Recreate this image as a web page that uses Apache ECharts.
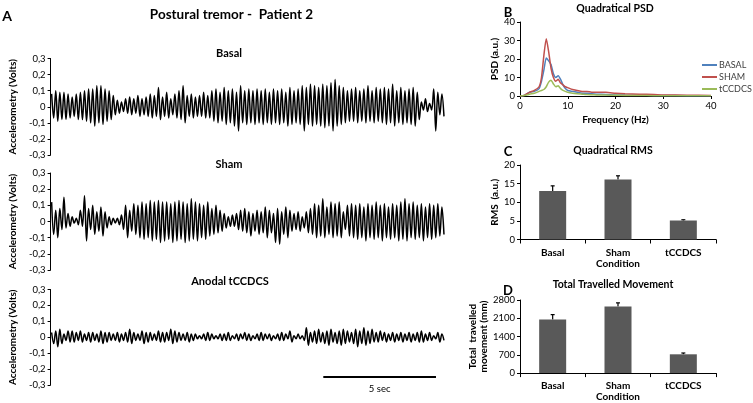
<!DOCTYPE html>
<html><head><meta charset="utf-8">
<script src="https://cdn.jsdelivr.net/npm/echarts@6/dist/echarts.min.js"></script>
<style>html,body{margin:0;padding:0;background:#fff}#c{width:753px;height:403px}</style>
</head><body><div id="c"></div>
<script>
// ---------- Panel A: accelerometry traces (alternating peak / trough per tremor cycle, Volts) ----------
const traceSeconds = 17.5;
const basalPeaks = [
0.08,0.10,0.09,0.09,0.08,0.06,0.08,0.09,0.10,0.11,0.11,0.13,
0.13,0.11,0.10,0.07,0.04,0.03,0.05,0.06,0.05,0.07,0.05,0.06,
0.08,0.07,0.12,0.06,0.09,0.05,0.08,0.10,0.13,0.07,0.08,0.06,
0.07,0.09,0.07,0.10,0.11,0.09,0.12,0.10,0.11,0.09,0.13,0.10,
0.11,0.10,0.11,0.10,0.11,0.09,0.11,0.10,0.11,0.09,0.12,0.10,
0.11,0.13,0.12,0.14,0.13,0.12,0.14,0.13,0.15,0.17,0.13,0.12,
0.10,0.11,0.12,0.10,0.11,0.13,0.10,0.12,0.11,0.12,0.11,0.14,
0.10,0.12,0.10,0.11,0.12,0.09,0.03,0.05,0.02,0.11,0.09,0.08];
const basalTroughs = [
-0.07,-0.09,-0.08,-0.08,-0.07,-0.06,-0.08,-0.08,-0.09,-0.10,-0.12,-0.10,
-0.11,-0.09,-0.08,-0.05,-0.04,-0.03,-0.04,-0.05,-0.04,-0.06,-0.05,-0.06,
-0.07,-0.06,-0.08,-0.06,-0.07,-0.05,-0.07,-0.08,-0.10,-0.06,-0.07,-0.06,
-0.06,-0.07,-0.07,-0.09,-0.10,-0.09,-0.11,-0.10,-0.12,-0.15,-0.10,-0.11,
-0.10,-0.11,-0.10,-0.11,-0.10,-0.11,-0.10,-0.11,-0.10,-0.12,-0.11,-0.10,
-0.11,-0.15,-0.11,-0.12,-0.11,-0.12,-0.13,-0.12,-0.15,-0.12,-0.11,-0.10,
-0.09,-0.09,-0.10,-0.09,-0.10,-0.09,-0.10,-0.09,-0.10,-0.11,-0.10,-0.12,
-0.10,-0.11,-0.10,-0.11,-0.12,-0.08,-0.02,-0.03,-0.02,-0.15,-0.05,-0.06];
const shamPeaks = [
0.12,0.07,0.08,0.15,0.05,0.03,0.02,0.07,0.16,0.08,0.10,0.06,
0.09,0.06,0.03,0.02,0.02,0.04,0.10,0.07,0.11,0.10,0.12,0.11,
0.13,0.12,0.13,0.12,0.12,0.11,0.12,0.13,0.12,0.11,0.14,0.12,
0.11,0.10,0.12,0.08,0.10,0.07,0.05,0.03,0.04,0.05,0.07,0.08,
0.06,0.05,0.07,0.06,0.09,0.07,0.05,0.08,0.06,0.09,0.07,0.05,
0.06,0.03,0.06,0.08,0.11,0.10,0.14,0.09,0.12,0.11,0.12,0.06,
0.10,0.11,0.10,0.11,0.09,0.11,0.10,0.12,0.10,0.11,0.09,0.11,
0.10,0.12,0.14,0.11,0.12,0.10,0.11,0.09,0.11,0.10,0.11,0.09];
const shamTroughs = [
-0.08,-0.10,-0.05,-0.04,-0.03,-0.01,-0.02,-0.03,-0.12,-0.05,-0.08,-0.06,
-0.09,-0.04,-0.02,-0.01,-0.02,-0.05,-0.10,-0.06,-0.08,-0.10,-0.11,-0.10,
-0.12,-0.11,-0.13,-0.12,-0.11,-0.13,-0.12,-0.11,-0.13,-0.12,-0.11,-0.12,
-0.10,-0.11,-0.09,-0.08,-0.07,-0.06,-0.04,-0.03,-0.03,-0.05,-0.06,-0.07,
-0.09,-0.06,-0.08,-0.07,-0.10,-0.07,-0.13,-0.14,-0.08,-0.10,-0.06,-0.05,
-0.06,-0.04,-0.07,-0.08,-0.10,-0.09,-0.10,-0.08,-0.10,-0.09,-0.10,-0.05,
-0.09,-0.10,-0.11,-0.10,-0.12,-0.10,-0.11,-0.10,-0.12,-0.10,-0.11,-0.10,
-0.12,-0.11,-0.12,-0.10,-0.11,-0.10,-0.12,-0.10,-0.11,-0.10,-0.09,-0.08];
const anodalPeaks = [
0.03,0.04,0.05,0.02,0.04,0.04,0.03,0.04,0.02,0.03,0.03,0.02,
0.04,0.03,0.03,0.02,0.03,0.02,0.03,0.05,0.03,0.02,0.04,0.03,
0.03,0.02,0.04,0.03,0.03,0.05,0.04,0.03,0.02,0.03,0.02,0.02,
0.01,0.02,0.03,0.02,0.01,0.02,0.02,0.03,0.01,0.02,0.02,0.03,
0.02,0.01,0.02,0.03,0.02,0.02,0.01,0.02,0.03,0.02,0.04,0.01,
0.02,0.01,0.06,0.03,0.04,0.05,0.03,0.04,0.05,0.03,0.04,0.05,
0.04,0.03,0.05,0.04,0.06,0.04,0.05,0.03,0.04,0.03,0.02,0.03,
0.02,0.03,0.02,0.03,0.02,0.03,0.04,0.02,0.03,0.01,0.03,0.02];
const anodalTroughs = [
-0.04,-0.06,-0.04,-0.02,-0.03,-0.03,-0.02,-0.03,-0.02,-0.03,-0.02,-0.03,
-0.04,-0.03,-0.02,-0.02,-0.03,-0.02,-0.03,-0.04,-0.02,-0.02,-0.04,-0.03,
-0.02,-0.02,-0.03,-0.03,-0.02,-0.04,-0.03,-0.02,-0.02,-0.03,-0.02,-0.01,
-0.01,-0.02,-0.02,-0.01,-0.01,-0.02,-0.02,-0.02,-0.01,-0.02,-0.01,-0.02,
-0.02,-0.01,-0.02,-0.02,-0.01,-0.02,-0.01,-0.02,-0.02,-0.01,-0.03,-0.01,
-0.01,-0.02,-0.05,-0.03,-0.04,-0.03,-0.04,-0.05,-0.03,-0.04,-0.05,-0.04,
-0.03,-0.04,-0.06,-0.04,-0.05,-0.04,-0.03,-0.03,-0.02,-0.03,-0.02,-0.03,
-0.02,-0.03,-0.02,-0.03,-0.02,-0.03,-0.03,-0.02,-0.02,-0.01,-0.03,-0.02];
const scaleBarStart = 12.1, scaleBarEnd = 17.1, scaleBarLevel = -0.25;

// ---------- Panel B: quadratical PSD ----------
const psdFreq   = [0,1,2,3,4,4.5,5,5.5,6,6.5,7,7.5,8,8.5,9,9.5,10,11,12,13,14,15,16,18,20,22,25,28,30,35,40];
const psdBasal  = [0,0.5,2,2.5,4,8,14,20.5,19,17,12,10,11,9,6,4,3,2.5,2,1.5,1.5,1.2,1,0.8,0.6,0.5,0.4,0.3,0.3,0.2,0.2];
const psdSham   = [0,0.5,2,3,5,10,22,31,24,15,10,8,9,7,6,5,4.5,3.5,3,2.5,2.5,2,2,2,1.5,1.2,1,0.8,0.6,0.4,0.3];
const psdTccdcs = [0,0.3,1,1.5,2.5,3,3.5,5,7.5,8.5,6.5,5,5.5,4,3,2.5,2,1.5,1.2,1,0.8,0.7,0.6,0.5,0.4,0.3,0.3,0.2,0.2,0.1,0.1];

// ---------- Panels C, D ----------
const conditions = ['Basal','Sham','tCCDCS'];
const rmsMean = [13.0, 16.1, 5.1];
const rmsErr  = [1.4, 1.0, 0.2];
const ttmMean = [2050, 2550, 720];
const ttmErr  = [190, 140, 50];

const FONT = 'Lato, "Open Sans", sans-serif';
const chart = echarts.init(document.getElementById('c'), null, {renderer:'canvas'});

function buildTrace(peaks, troughs){
  const n = Math.min(peaks.length, troughs.length);
  const T = traceSeconds / n;
  const pts = [];
  for (let i=0;i<n;i++){ pts.push([(i+0.25)*T, peaks[i]]); pts.push([(i+0.75)*T, troughs[i]]); }
  return pts;
}
const zip = (xs, ys) => xs.map((x,i)=>[x, ys[i]]);
const fmtComma = v => Math.abs(v) < 1e-9 ? '0' : v.toFixed(1).replace('.', ',');
const fmtPlain = v => String(Math.round(v));

const traceGrids = [
  {left:42, top:58.5, width:403, height:96.5},
  {left:42, top:173,  width:403, height:97},
  {left:42, top:289.5,width:403, height:95.5}
];
const grids = traceGrids.concat([
  {left:520, top:22,  width:191, height:74},
  {left:520, top:165, width:196, height:74.5},
  {left:520, top:300, width:196, height:75}
]);

const axisNameStyle = {fontFamily:FONT, fontSize:10, fontWeight:'bold', color:'#000'};
const tickLabel = {fontFamily:FONT, fontSize:9.5, color:'#000'};

const xAxes = [0,1,2].map(i=>({type:'value', gridIndex:i, min:0, max:traceSeconds, show:false}));
xAxes.push({type:'value', gridIndex:3, min:0, max:40, interval:10,
  axisLine:{show:true, lineStyle:{color:'#000', width:1}}, axisTick:{show:true, length:3, lineStyle:{color:'#000'}},
  axisLabel:{...tickLabel, margin:5}, splitLine:{show:false},
  name:'Frequency (Hz)', nameLocation:'middle', nameGap:19, nameTextStyle:axisNameStyle});
[4,5].forEach(g=>xAxes.push({type:'category', gridIndex:g, data:conditions,
  axisLine:{show:true, lineStyle:{color:'#000'}}, axisTick:{show:true, alignWithLabel:false, length:4, lineStyle:{color:'#000'}},
  axisLabel:{fontFamily:FONT, fontSize:10, fontWeight:'bold', color:'#000', margin:8},
  name:'Condition', nameLocation:'middle', nameGap:17, nameTextStyle:axisNameStyle}));

const yAxes = [0,1,2].map(i=>({type:'value', gridIndex:i, min:-0.3, max:0.3, interval:0.1,
  axisLine:{show:true, lineStyle:{color:'#000'}}, axisTick:{show:true, length:3, lineStyle:{color:'#000'}},
  axisLabel:{...tickLabel, margin:5, formatter:fmtComma}, splitLine:{show:false},
  name:'Accelerometry (Volts)', nameLocation:'middle', nameGap:28, nameTextStyle:axisNameStyle}));
yAxes.push({type:'value', gridIndex:3, min:0, max:40, interval:10,
  axisLine:{show:true, lineStyle:{color:'#000'}}, axisTick:{show:true, length:3, lineStyle:{color:'#000'}},
  axisLabel:{...tickLabel, margin:5, formatter:fmtPlain}, splitLine:{show:false},
  name:'PSD (a.u.)', nameLocation:'middle', nameGap:16, nameTextStyle:axisNameStyle});
yAxes.push({type:'value', gridIndex:4, min:0, max:20, interval:5,
  axisLine:{show:true, lineStyle:{color:'#000'}}, axisTick:{show:true, length:3, lineStyle:{color:'#000'}},
  axisLabel:{...tickLabel, margin:5, formatter:fmtPlain}, splitLine:{show:false},
  name:'RMS  (a.u.)', nameLocation:'middle', nameGap:16, nameTextStyle:axisNameStyle});
yAxes.push({type:'value', gridIndex:5, min:0, max:2800, interval:700,
  axisLine:{show:true, lineStyle:{color:'#000'}}, axisTick:{show:true, length:3, lineStyle:{color:'#000'}},
  axisLabel:{...tickLabel, margin:5, formatter:fmtPlain}, splitLine:{show:false},
  name:'Total  travelled\nmovement (mm)', nameLocation:'middle', nameGap:8,
  nameTextStyle:{...axisNameStyle, lineHeight:11}});

function errRender(params, api){
  const i = api.value(0), m = api.value(1), e = api.value(2);
  const b = api.coord([i, m]), t = api.coord([i, m+e]);
  return {type:'group', children:[
    {type:'line', shape:{x1:b[0], y1:b[1], x2:t[0], y2:t[1]}, style:{stroke:'#000', lineWidth:1.2}},
    {type:'line', shape:{x1:t[0]-2, y1:t[1], x2:t[0]+2, y2:t[1]}, style:{stroke:'#000', lineWidth:1.2}}
  ]};
}

const traceLine = (i, data) => ({type:'line', xAxisIndex:i, yAxisIndex:i, data, symbol:'none', smooth:0.35,
  lineStyle:{color:'#000', width:1.5}, silent:true});

const series = [
  traceLine(0, buildTrace(basalPeaks, basalTroughs)),
  traceLine(1, buildTrace(shamPeaks, shamTroughs)),
  traceLine(2, buildTrace(anodalPeaks, anodalTroughs)),
  {type:'line', xAxisIndex:2, yAxisIndex:2, data:[[scaleBarStart, scaleBarLevel],[scaleBarEnd, scaleBarLevel]],
    symbol:'none', lineStyle:{color:'#000', width:2}},
  {name:'BASAL', type:'line', xAxisIndex:3, yAxisIndex:3, data:zip(psdFreq, psdBasal), symbol:'none', smooth:0.2, color:'#4F81BD', lineStyle:{width:1.5}},
  {name:'SHAM', type:'line', xAxisIndex:3, yAxisIndex:3, data:zip(psdFreq, psdSham), symbol:'none', smooth:0.2, color:'#C0504D', lineStyle:{width:1.5}},
  {name:'tCCDCS', type:'line', xAxisIndex:3, yAxisIndex:3, data:zip(psdFreq, psdTccdcs), symbol:'none', smooth:0.2, color:'#9BBB59', lineStyle:{width:1.5}},
  {type:'bar', xAxisIndex:4, yAxisIndex:4, data:rmsMean, barWidth:27, itemStyle:{color:'#595959'}},
  {type:'custom', xAxisIndex:4, yAxisIndex:4, renderItem:errRender, data:rmsMean.map((m,i)=>[i,m,rmsErr[i]]), encode:{x:0,y:1}},
  {type:'bar', xAxisIndex:5, yAxisIndex:5, data:ttmMean, barWidth:27, itemStyle:{color:'#595959'}},
  {type:'custom', xAxisIndex:5, yAxisIndex:5, renderItem:errRender, data:ttmMean.map((m,i)=>[i,m,ttmErr[i]]), encode:{x:0,y:1}}
];

chart.setOption({
  animation:false,
  backgroundColor:'#fff',
  textStyle:{fontFamily:FONT},
  grid:grids, xAxis:xAxes, yAxis:yAxes, series,
  legend:{data:['BASAL','SHAM','tCCDCS'], orient:'vertical', left:697, top:54, icon:'rect', itemWidth:15, itemHeight:2, itemGap:0,
    textStyle:{fontFamily:FONT, fontSize:9, color:'#404040', lineHeight:12, padding:[0,0,0,-3]}}
});

const sb = chart.convertToPixel({gridIndex:2}, [(scaleBarStart+scaleBarEnd)/2, scaleBarLevel]);
const txt = (x, y, text, size, bold) => ({type:'text', x, y, silent:true,
  style:{text, fill:'#000', font:(bold?'bold ':'')+size+'px '+FONT, align:'center', verticalAlign:'middle'}});
chart.setOption({graphic:[
  txt(7, 16, 'A', 14, true),
  txt(231.5, 14.5, 'Postural tremor -  Patient 2', 13.5, true),
  txt(229, 53, 'Basal', 11, true),
  txt(229, 164, 'Sham', 11, true),
  txt(230, 281, 'Anodal tCCDCS', 11, true),
  txt(sb[0], sb[1] + 12, '5 sec', 9.5, false),
  txt(508, 13, 'B', 13, true),
  txt(615, 9, 'Quadratical PSD', 10.5, true),
  txt(508, 152, 'C', 13, true),
  txt(613, 151, 'Quadratical RMS', 10.5, true),
  txt(508, 291, 'D', 13, true),
  txt(613, 285, 'Total Travelled Movement', 10.5, true)
]});
</script></body></html>
